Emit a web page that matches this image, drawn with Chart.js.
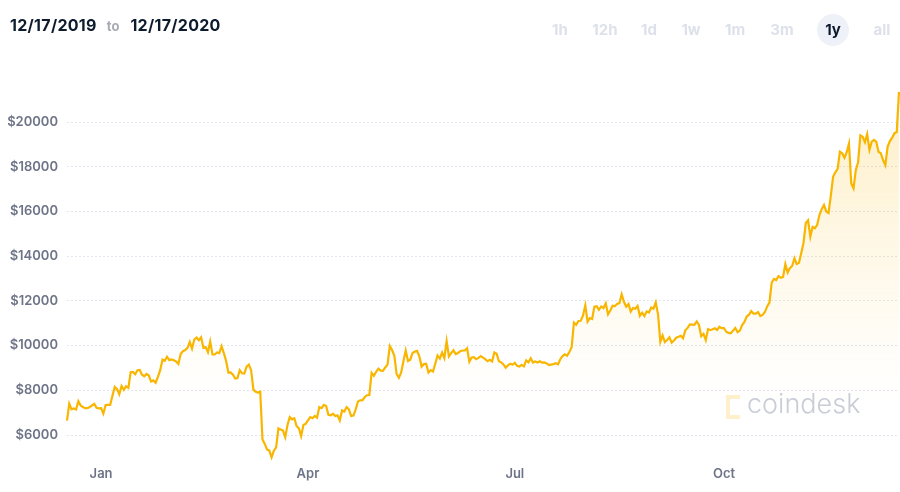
<!DOCTYPE html>
<html>
<head>
<meta charset="utf-8">
<script src="https://cdn.jsdelivr.net/npm/chart.js@4.4.1/dist/chart.umd.min.js"></script>
<style>
html, body { margin: 0; padding: 0; background: #fff; }
#wrap { position: relative; width: 900px; height: 492px; overflow: hidden; font-family: Inter, "Open Sans", sans-serif; }
#chart { position: absolute; left: 0; top: 0; }
.range { position: absolute; top: 15px; left: 10px; font-size: 16px; letter-spacing: 0.3px; line-height: 20px; font-weight: 700; color: #0d1b2e; white-space: nowrap; }
.range .to { color: #a6abb5; font-size: 13px; letter-spacing: 0; margin: 0 11px 0 10px; }
.pill { position: absolute; left: 817px; top: 14px; width: 32px; height: 32px; border-radius: 50%; background: #eef1f7; }
.btn { position: absolute; top: 20px; transform: translateX(-50%); font-size: 15px; line-height: 20px; font-weight: 700; color: #dde1ea; }
.btn.on { color: #0d1b2e; }
.mark { position: absolute; left: 726px; top: 395px; width: 10px; height: 16px; border: 4px solid rgba(249, 200, 70, 0.28); border-right: none; }
.brand { position: absolute; left: 747px; top: 386px; font-size: 27px; line-height: 36px; font-weight: 300; color: #c9cdd6; }
</style>
</head>
<body>
<div id="wrap">
    <canvas id="chart" width="900" height="492"></canvas>
    <div class="range">12/17/2019<span class="to">to</span>12/17/2020</div>
    <div class="pill"></div>
    <div id="buttons"></div>
    <div class="mark"></div>
    <div class="brand">coindesk</div>
</div>
<script>
// الأسعار اليومية (دولار) من 17 ديسمبر 2019 إلى 17 ديسمبر 2020
const dec2019 = [6640, 7400, 7150, 7190, 7145, 7510, 7320, 7250, 7200, 7200, 7250, 7320, 7390, 7220, 7190];
const jan = [7200, 6960, 7340, 7350, 7350, 7760, 8150, 8050, 7820, 8190, 8020, 8180, 8110, 8810, 8820, 8720, 8900, 8910, 8700, 8630, 8730, 8660, 8390, 8440, 8340, 8600, 8900, 9370, 9320, 9500, 9350];
const feb = [9380, 9340, 9290, 9180, 9620, 9750, 9800, 9900, 10160, 9860, 10270, 10360, 10240, 10370, 9900, 9930, 9700, 10180, 9600, 9600, 9690, 9660, 9970, 9660, 9310, 8790, 8800, 8700, 8530];
const mar = [8550, 8900, 8760, 8750, 9060, 9150, 8900, 8030, 7930, 7900, 7940, 5800, 5600, 5350, 5300, 5000, 5300, 5450, 6300, 6250, 6200, 5900, 6450, 6800, 6700, 6750, 6400, 6300, 5950, 6450, 6500];
const apr = [6650, 6800, 6750, 6850, 6780, 7250, 7200, 7350, 7300, 6900, 6880, 6950, 6850, 6880, 6650, 7100, 7050, 7250, 7150, 6850, 6870, 7150, 7500, 7550, 7560, 7700, 7780, 7790, 8780, 8650];
const may = [8830, 8970, 8880, 8870, 9020, 9150, 9980, 9800, 9540, 8730, 8560, 8800, 9300, 9780, 9310, 9370, 9670, 9730, 9760, 9520, 9060, 9170, 9190, 8790, 8900, 8840, 9190, 9560, 9420, 9690, 9440];
const jun = [10200, 9520, 9660, 9790, 9620, 9670, 9750, 9780, 9780, 9880, 9280, 9470, 9480, 9390, 9450, 9530, 9460, 9390, 9300, 9360, 9290, 9690, 9630, 9300, 9250, 9160, 9010, 9120, 9190, 9140];
const jul = [9230, 9090, 9060, 9140, 9070, 9340, 9250, 9430, 9240, 9290, 9240, 9300, 9240, 9250, 9200, 9130, 9150, 9170, 9210, 9160, 9390, 9530, 9610, 9550, 9710, 9930, 11030, 10930, 11100, 11110, 11350];
const aug = [11800, 11070, 11230, 11190, 11740, 11760, 11600, 11750, 11680, 11890, 11400, 11570, 11780, 11770, 11860, 11900, 12290, 11960, 11740, 11860, 11520, 11680, 11650, 11770, 11330, 11470, 11320, 11530, 11480, 11700, 11650];
const sep = [11930, 11400, 10170, 10460, 10160, 10250, 10370, 10130, 10230, 10350, 10390, 10440, 10330, 10680, 10790, 10950, 10940, 10930, 11080, 10920, 10420, 10530, 10240, 10740, 10690, 10730, 10770, 10700, 10840, 10780];
const oct = [10780, 10620, 10570, 10550, 10670, 10790, 10600, 10670, 10920, 11060, 11300, 11380, 11540, 11430, 11430, 11500, 11320, 11370, 11500, 11750, 11920, 12820, 12980, 12930, 13110, 13030, 13070, 13650, 13270, 13460, 13560];
const nov = [13900, 13650, 13700, 14140, 14600, 15480, 15600, 14870, 15310, 15250, 15400, 15840, 16100, 16290, 16000, 15930, 16700, 17550, 17750, 17900, 18670, 18600, 18400, 18650, 19040, 17250, 17030, 17850, 18200, 19400];
const dec2020 = [19340, 19100, 19460, 18750, 19120, 19200, 19120, 18670, 18600, 18300, 18070, 18900, 19150, 19300, 19500, 19550, 21350];

const prices = [].concat(dec2019, jan, feb, mar, apr, may, jun, jul, aug, sep, oct, nov, dec2020);

// محور السعر
const priceTicks = [6000, 8000, 10000, 12000, 14000, 16000, 18000, 20000];
// محور الزمن: رقم اليوم منذ 17 ديسمبر 2019
const monthTicks = [15, 106, 197, 289];
const monthLabels = ['Jan', 'Apr', 'Jul', 'Oct'];

// أزرار الفترات
const ranges = ['1h', '12h', '1d', '1w', '1m', '3m', '1y', 'all'];
const rangeX = [560, 605, 649, 691, 735, 782, 833, 882];
const activeRange = '1y';

const btnBox = document.getElementById('buttons');
ranges.forEach((r, i) => {
    const el = document.createElement('div');
    el.className = 'btn' + (r === activeRange ? ' on' : '');
    el.style.left = rangeX[i] + 'px';
    el.textContent = r;
    btnBox.appendChild(el);
});

const labelFont = { family: 'Inter, "Open Sans", sans-serif', size: 13, weight: '600' };
const labelColor = '#6e7487';

const ctx = document.getElementById('chart').getContext('2d');
new Chart(ctx, {
    type: 'line',
    data: {
        datasets: [{
            data: prices.map((v, i) => ({ x: i, y: v })),
            borderColor: '#f9b600',
            borderWidth: 2.2,
            pointRadius: 0,
            tension: 0,
            clip: false,
            fill: 'start',
            backgroundColor: (c) => {
                const area = c.chart.chartArea;
                if (!area) return 'rgba(0,0,0,0)';
                const g = c.chart.ctx.createLinearGradient(0, area.top, 0, area.bottom);
                g.addColorStop(0, 'rgba(247,181,0,0.22)');
                g.addColorStop(0.45, 'rgba(247,181,0,0.09)');
                g.addColorStop(0.72, 'rgba(247,181,0,0.025)');
                g.addColorStop(0.85, 'rgba(247,181,0,0)');
                return g;
            }
        }]
    },
    options: {
        responsive: false,
        animation: false,
        layout: { padding: { top: 91, right: 1, left: 0, bottom: 0 } },
        plugins: {
            legend: { display: false },
            tooltip: { enabled: false }
        },
        scales: {
            x: {
                type: 'linear',
                min: 0,
                max: 366,
                grid: { display: false, drawTicks: false },
                border: { display: false },
                afterBuildTicks: (s) => { s.ticks = monthTicks.map(v => ({ value: v })); },
                afterFit: (s) => { s.height = 32; },
                ticks: {
                    autoSkip: false,
                    maxRotation: 0,
                    padding: 6,
                    font: labelFont,
                    color: labelColor,
                    callback: (v) => monthLabels[monthTicks.indexOf(v)]
                }
            },
            y: {
                min: 4882,
                max: 21387,
                afterBuildTicks: (s) => { s.ticks = priceTicks.map(v => ({ value: v })); },
                afterFit: (s) => { s.width = 67; },
                grid: { color: '#e2e6ee', drawTicks: false },
                border: { display: false, dash: [2, 2] },
                ticks: {
                    padding: 9,
                    font: labelFont,
                    color: labelColor,
                    callback: (v) => '$' + v
                }
            }
        }
    }
});
</script>
</body>
</html>
